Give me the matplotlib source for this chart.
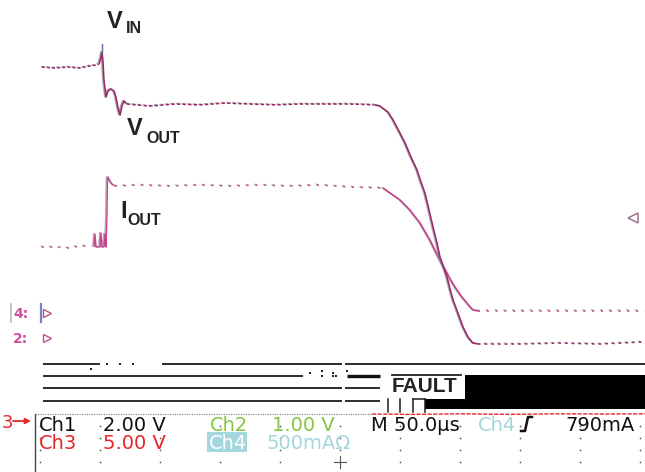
import matplotlib
matplotlib.use("Agg")
import matplotlib.pyplot as plt
import matplotlib.patheffects as pe
from matplotlib.transforms import Affine2D
from matplotlib.patches import Rectangle

# ---------------- acquisition data ----------------
# time base: 50 us/div, trigger at screen centre (t = 0)
US_PER_DIV = 50.0

# Ch1 : VIN -> VOUT (2.00 V/div)
v_pre_t = [-248.3, -237.5, -226.7, -216.7, -208.3, -202.5, -200.8]
v_pre_v = [9.03, 9.00, 9.03, 9.00, 9.07, 9.10, 9.13]
v_step_t = [-200.8, -199.2, -198.3, -197.5, -196.7, -195.0, -193.3, -190.8, -188.3,
            -186.7, -185.0, -183.3, -181.7, -180.0, -177.5]
v_step_v = [9.13, 9.33, 9.53, 9.20, 8.60, 8.03, 8.23, 8.30, 8.23,
            8.03, 7.67, 7.43, 7.73, 7.90, 7.80]
v_mid_t = [-177.5, -158.3, -137.5, -116.7, -95.8, -75.0, -54.2, -33.3, -12.5, 8.3, 29.2]
v_mid_v = [7.80, 7.73, 7.80, 7.77, 7.83, 7.80, 7.77, 7.80, 7.80, 7.80, 7.77]
v_fall_t = [29.2, 33.3, 40.0, 44.2, 50.0, 54.2, 59.2, 64.2, 67.5, 70.8, 74.2, 77.5, 80.8,
            83.3, 86.7, 89.2, 91.7, 94.2, 98.3, 102.5, 106.7, 110.8, 115.0]
v_fall_v = [7.77, 7.73, 7.53, 7.27, 6.83, 6.50, 6.03, 5.60, 5.20, 4.83, 4.27, 3.70, 3.17,
            2.70, 2.33, 2.03, 1.63, 1.27, 0.83, 0.37, 0.03, -0.17, -0.20]
v_post_t = [115.0, 150.0, 183.3, 216.7, 254.2]
v_post_v = [-0.20, -0.20, -0.17, -0.20, -0.13]

# Ch4 : IOUT (500 mA/div)
i_pre_t = [-248.3, -237.5, -226.7, -216.7, -206.7]
i_pre_a = [0.550, 0.550, 0.542, 0.558, 0.558]
i_step_t = [-205.0, -204.2, -203.3, -200.0, -199.2, -198.3, -196.7, -195.8, -195.0,
            -194.2, -193.75, -193.3, -191.7, -190.0, -187.5]
i_step_a = [0.550, 0.658, 0.550, 0.550, 0.667, 0.550, 0.550, 0.658, 0.550,
            0.817, 1.108, 1.133, 1.100, 1.075, 1.058]
i_mid_t = [-187.5, -166.7, -141.7, -116.7, -91.7, -66.7, -41.7, -16.7, 8.3, 35.8]
i_mid_a = [1.058, 1.067, 1.058, 1.067, 1.058, 1.067, 1.058, 1.067, 1.050, 1.042]
i_fall_t = [35.8, 44.2, 50.0, 58.3, 66.7, 75.0, 83.3, 89.2, 93.3, 97.5, 101.7, 105.8,
            110.8, 115.0]
i_fall_a = [1.042, 0.983, 0.942, 0.858, 0.750, 0.608, 0.442, 0.333, 0.258, 0.192,
            0.133, 0.083, 0.025, 0.017]
i_post_t = [115.0, 150.0, 183.3, 216.7, 254.2]
i_post_a = [0.017, 0.017, 0.017, 0.017, 0.017]

# Ch3 : fault flag (5.00 V/div)
c3_t = [26.7, 60.0, 100.0, 140.0, 180.0, 220.0, 254.2]
c3_v = [0.58, 0.55, 0.60, 0.55, 0.60, 0.58, 0.60]

# channel settings (volts or amps per division, reference level in div)
CH1_SCALE, CH1_REF = 2.0, -0.4167
CH4_SCALE, CH4_REF = 0.5, 0.0
CH3_SCALE, CH3_REF = 5.0, -1.80
TRIG_LEVEL = 0.79   # A, on Ch4

# digital rows (div) and their high segments (us)
dig_rows = [-0.85, -1.05, -1.25, -1.467]
dig_segments = [
    [(-247.5, -200.0), (-148.3, 1.7), (4.2, 254.2)],
    [(-247.5, -30.8)],
    [(-247.5, 1.7), (4.2, 33.3)],
    [(-247.5, 1.7), (4.2, 33.3)],
]
dig_bold = [(1, 5.8, 33.3)]
dig_dots_t = [-194.2, -183.3, -172.5, -207.5, -25.0, -15.0, -15.0, -5.8, -5.8, -3.3, 5.8]
dig_dots_y = [-0.85, -0.85, -0.85, -0.933, -1.00, -0.97, -1.05, -1.00, -1.05, -1.05, -0.97]
bus_blocks = [(104.2, 254.2, -1.433, -1.033), (70.8, 254.2, -1.60, -1.433)]
bus_edges_t = [40.0, 50.0, 60.8, 70.8]

status_row1 = [("Ch1", 39, "#111111"), ("2.00 V", 103, "#111111"),
               ("Ch2", 210, "#86c443"), ("1.00 V", 272, "#86c443"),
               ("M 50.0\u00b5s", 371, "#111111"), ("Ch4", 478, "#a3d6dd"),
               ("790mA", 565, "#111111")]
status_row2 = [("Ch3", 39, "#e8262a"), ("5.00 V", 103, "#e8262a"),
               ("500mA\u03a9", 267, "#a3d6dd")]

# ---------------- figure ----------------
W, H = 645, 472
fig = plt.figure(figsize=(W / 100, H / 100), dpi=100)
fig.patch.set_facecolor("white")
ax = fig.add_axes([0, 0, 1, 1])
ax.axis("off")
PX_PER_DIV = 60.0
X0, Y0 = 340.0, 313.0
ax.set_xlim(-X0 / PX_PER_DIV * US_PER_DIV, (W - X0) / PX_PER_DIV * US_PER_DIV)
ax.set_ylim((Y0 - H) / PX_PER_DIV, Y0 / PX_PER_DIV)

# screen-pixel transform (origin top-left) for annotations
PX = Affine2D().scale(1.0 / W, -1.0 / H).translate(0, 1) + fig.transFigure

shadow = [pe.SimpleLineShadow(offset=(-0.9, 0.4), shadow_color="#8a8a8a", alpha=0.7),
          pe.Normal()]

V_COL = "#9a2768"
I_COL = "#c8428c"


def ch1(vals):
    return [v / CH1_SCALE + CH1_REF for v in vals]


def ch4(vals):
    return [a / CH4_SCALE + CH4_REF for a in vals]


def trace(t, y, color, solid, dashes=(1.6, 1.6), lw=1.15):
    ln, = ax.plot(t, y, color=color, lw=lw, solid_capstyle="butt",
                  path_effects=shadow, zorder=4)
    if not solid:
        ln.set_dashes(dashes)
    return ln


# IOUT
trace(i_pre_t, ch4(i_pre_a), I_COL, False, (1.2, 4.0))
trace(i_step_t, ch4(i_step_a), I_COL, True, lw=1.0)
trace(i_mid_t, ch4(i_mid_a), I_COL, False, (1.3, 4.2))
trace(i_fall_t, ch4(i_fall_a), I_COL, True)
trace(i_post_t, ch4(i_post_a), I_COL, False, (1.3, 4.2))

# VIN / VOUT
trace(v_pre_t, ch1(v_pre_v), V_COL, False, (1.8, 1.4))
trace(v_step_t, ch1(v_step_v), V_COL, True)
trace(v_mid_t, ch1(v_mid_v), V_COL, False, (2.0, 1.5))
trace(v_fall_t, ch1(v_fall_v), V_COL, True)
trace(v_post_t, ch1(v_post_v), V_COL, False, (1.6, 2.6))

# small cursor tick above the input spike
ax.plot([v_step_t[2], v_step_t[2]], ch1([9.55, 9.8]), color="#5a6fb5", lw=1.0, zorder=5)

# Ch3 flag trace at the bottom edge
ln3, = ax.plot(c3_t, [v / CH3_SCALE + CH3_REF for v in c3_v], color="#e8262a", lw=1.0,
               zorder=3)
ln3.set_dashes((3.0, 1.0))

# digital / bus lines
for row, segs in zip(dig_rows, dig_segments):
    for a, b in segs:
        ax.plot([a, b], [row, row], color="#1c1c1c", lw=1.3, solid_capstyle="butt", zorder=3)
for idx, a, b in dig_bold:
    ax.plot([a, b], [dig_rows[idx], dig_rows[idx]], color="#111111", lw=2.4,
            solid_capstyle="butt", zorder=3)
ax.scatter(dig_dots_t, dig_dots_y, s=2.5, color="#222222", marker="s", lw=0, zorder=3)
for t0, t1, y0, y1 in bus_blocks:
    ax.add_patch(Rectangle((t0, y0), t1 - t0, y1 - y0, color="black", lw=0, zorder=3))
for te in bus_edges_t:
    ax.plot([te, te], [-1.433, -1.65], color="#1c1c1c", lw=1.1, zorder=3)
ax.plot([bus_edges_t[2], bus_edges_t[3]], [-1.433, -1.433], color="#1c1c1c", lw=1.1, zorder=3)

# channel reference markers on the left
ax.text(13, Y0 + 1, "4:", transform=PX, color="#d0509a", fontsize=10,
        fontweight="bold", va="center", ha="left", zorder=5)
ax.plot([11, 11], [304, 322], transform=PX, color="#bbbbbb", lw=1.2)
ax.plot([41, 41], [304, 322], transform=PX, color="#6f86c4", lw=1.6)
ax.text(13, Y0 + 26, "2:", transform=PX, color="#d0509a", fontsize=10,
        fontweight="bold", va="center", ha="left", zorder=5)
ax.plot([-244.0, -244.0], [CH4_REF, CH1_REF], ls="none", marker=">", ms=6,
        mfc="white", mec="#c05090", mew=1.0)

# trigger level marker on the right
ax.plot([244.0], [TRIG_LEVEL / CH4_SCALE + CH4_REF], marker="<", ms=7.5, mfc="white",
        mec="#a07090", mew=1.1, zorder=5)

# trace labels
lab = dict(transform=PX, color="#222222", fontfamily="Liberation Sans",
           fontweight="bold", va="baseline", ha="left")
ax.text(107, 28, "V", fontsize=17, **lab)
ax.text(126, 33, "IN", fontsize=11.5, **lab)
ax.text(127, 135, "V", fontsize=17, **lab)
ax.text(146, 143, "OUT", fontsize=11.5, **lab)
ax.text(120, 218, "I", fontsize=17, **lab)
ax.text(127, 225, "OUT", fontsize=11.5, **lab)
ax.text(392, 392, "FAULT", fontsize=15, **lab)
ax.plot([392, 461], [374.5, 374.5], transform=PX, color="#222222", lw=1.3)

# status area: graticule edge and dots
ax.plot([35, 35], [414, H], transform=PX, color="#444444", lw=1.0)
ax.plot([35, 372], [414, 414], transform=PX, color="#777777", lw=0.8, dashes=(1.0, 1.2))
grat_x = [40 + 60 * k for k in range(11)]
grat_y = [426, 438, 450, 462]
gx = [x for x in grat_x for _ in grat_y]
gy = [y for _ in grat_x for y in grat_y]
ax.scatter(gx, gy, s=1.5, color="#555555", lw=0, transform=PX, zorder=2)
ax.plot([334, 346], [462, 462], transform=PX, color="#555555", lw=0.8)
ax.plot([340, 340], [456, 468], transform=PX, color="#555555", lw=0.8)

# status text
st = dict(transform=PX, fontfamily="DejaVu Sans", fontsize=14, va="baseline", ha="left",
          zorder=6)
ax.text(2, 428, "3", color="#e8262a", fontsize=13, transform=PX, va="baseline",
        ha="left", zorder=6)
ax.annotate("", xy=(31, 421), xytext=(13, 421), xycoords=PX, textcoords=PX,
            arrowprops=dict(arrowstyle="-|>", color="#e8262a", lw=1.3,
                            mutation_scale=8, shrinkA=0, shrinkB=0))
for txt, x, col in status_row1:
    ax.text(x, 431, txt, color=col, **st)
for txt, x, col in status_row2:
    ax.text(x, 449, txt, color=col, **st)
ax.add_patch(Rectangle((207, 432), 40, 20, transform=PX, color="#a3d6dd", lw=0, zorder=5))
ax.text(209, 449, "Ch4", color="white", **st)
# rising-edge trigger slope glyph
ax.plot([521, 525, 528, 532], [431, 431, 417, 417], transform=PX, color="#111111",
        lw=1.8, zorder=6)

fig.savefig("out.png", dpi=100, facecolor="white")
